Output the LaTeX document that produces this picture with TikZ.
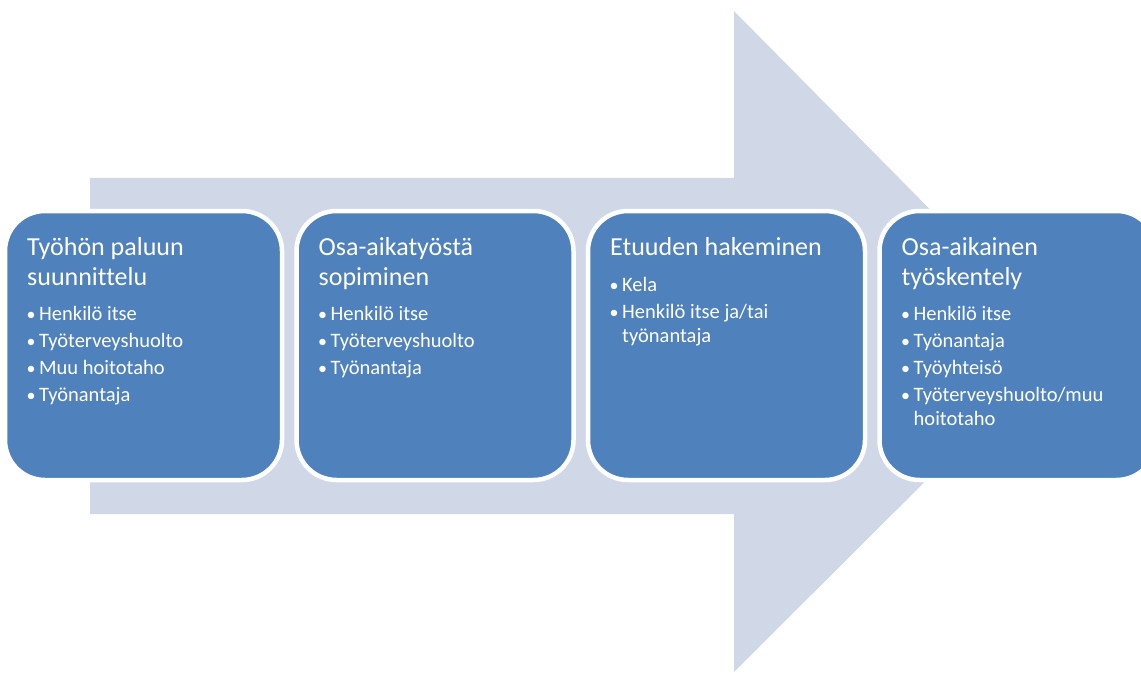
\documentclass[tikz,border=0pt]{standalone}
\usepackage{fontspec}
\setmainfont{Carlito}[Ligatures=NoCommon]
\usetikzlibrary{positioning}

\definecolor{arrowgray}{HTML}{D0D8E8}
\definecolor{stageblue}{HTML}{4F81BD}

\newcommand{\stagehead}[1]{\parbox[t]{250pt}{\fontsize{26}{30}\selectfont\raggedright #1}}
\newcommand{\stagelist}[1]{\parbox[t]{250pt}{\fontsize{20.5}{24.5}\selectfont\parskip=2.5pt\raggedright #1}}
\newcommand{\itm}[1]{\par\hangindent=12pt\hangafter=1\noindent\makebox[12pt][l]{\hspace{-0.5pt}{\fontsize{18}{18}\selectfont•}}#1}

\tikzset{
  stage/.style={draw=white, line width=4.5pt, fill=stageblue, rounded corners=40pt,
    minimum width=277pt, minimum height=269pt, inner sep=0pt, outer sep=0pt},
  stagetext/.style={anchor=base west, inner sep=0pt, text=white}
}

\begin{document}
\begin{tikzpicture}[x=1pt,y=-1pt]
    \useasboundingbox (0,0) rectangle (1141,674);
    \clip (0,0) rectangle (1141,674);

    % big background arrow
    \fill[arrowgray] (90,178) -- (734,178) -- (734,11) -- (1063,344)
        -- (734,672) -- (734,514) -- (90,514) -- cycle;

    \node[stage] (s1) at (143.5,345.5) {};
    \node[stage] (s2) at (435,345.5) {};
    \node[stage] (s3) at (726.5,345.5) {};
    \node[stage] (s4) at (1018,345.5) {};

    \node[stagetext] (h1) at ([shift={(22,44)}]s1.north west) {\stagehead{Työhön paluun\\suunnittelu}};
    \node[stagetext] (l1) at ([shift={(22,109)}]s1.north west)
        {\stagelist{\itm{Henkilö itse}\itm{Työterveyshuolto}\itm{Muu hoitotaho}\itm{Työnantaja}}};

    \node[stagetext] (h2) at ([shift={(22,44)}]s2.north west) {\stagehead{Osa-aikatyöstä\\sopiminen}};
    \node[stagetext] (l2) at ([shift={(22,109)}]s2.north west)
        {\stagelist{\itm{Henkilö itse}\itm{Työterveyshuolto}\itm{Työnantaja}}};

    \node[stagetext] (h3) at ([shift={(22,44)}]s3.north west) {\stagehead{Etuuden hakeminen}};
    \node[stagetext] (l3) at ([shift={(22,80)}]s3.north west)
        {\stagelist{\itm{Kela}\itm{Henkilö itse ja/tai\newline työnantaja}}};

    \node[stagetext] (h4) at ([shift={(22,44)}]s4.north west) {\stagehead{Osa-aikainen\\työskentely}};
    \node[stagetext] (l4) at ([shift={(22,109)}]s4.north west)
        {\stagelist{\itm{Henkilö itse}\itm{Työnantaja}\itm{Työyhteisö}\itm{Työterveyshuolto/muu\newline hoitotaho}}};
\end{tikzpicture}
\end{document}
